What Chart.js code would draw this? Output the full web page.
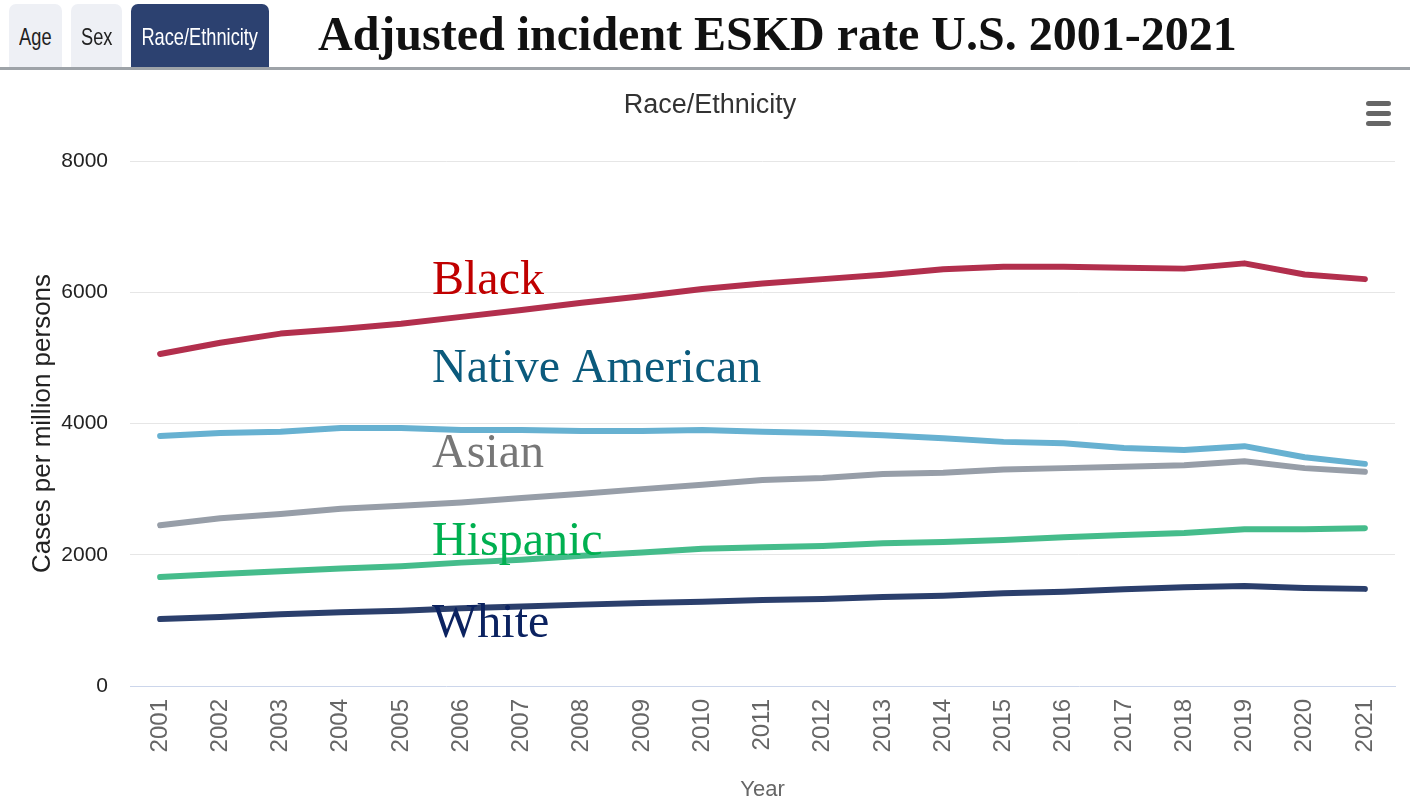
<!DOCTYPE html>
<html>
<head>
<meta charset="utf-8">
<title>Adjusted incident ESKD rate U.S. 2001-2021</title>
<script src="https://cdn.jsdelivr.net/npm/chart.js@4.4.1/dist/chart.umd.min.js"></script>
<style>
  html, body { margin: 0; padding: 0; background: #fff; }
  body { width: 1412px; height: 803px; position: relative; overflow: hidden; }
  #chart { position: absolute; left: 0; top: 0; }
  .tab {
    position: absolute; top: 4px; height: 63px;
    display: flex; align-items: center; justify-content: center;
    border-radius: 7px 7px 0 0;
    font-family: "Liberation Sans", Arial, sans-serif;
    font-size: 24px; color: #222; background: #eef0f5; white-space: nowrap;
  }
  /* the reference uses a condensed face, squeeze the text sideways */
  .tab span { display: inline-block; flex: none; transform: scaleX(0.76); margin-top: 2px; }
  .tab.active { background: #2c4170; color: #fff; }
  #rule { position: absolute; left: 0; top: 67px; width: 1410px; height: 3px; background: #9ea3a8; }
  #mainTitle {
    position: absolute; left: 318px; top: 10px; line-height: 1;
    font-family: "Liberation Serif", "Times New Roman", serif; font-weight: bold;
    font-size: 48px; color: #111; white-space: nowrap;
  }
  .bar { position: absolute; left: 1366px; width: 25px; height: 5px; border-radius: 3px; background: #666; }
</style>
</head>
<body>
<canvas id="chart" width="1412" height="803"></canvas>

<div class="tab" style="left:9px;width:53px;"><span>Age</span></div>
<div class="tab" style="left:71px;width:51px;"><span>Sex</span></div>
<div class="tab active" style="left:131px;width:138px;"><span>Race/Ethnicity</span></div>
<div id="rule"></div>
<div id="mainTitle">Adjusted incident ESKD rate U.S. 2001-2021</div>
<div class="bar" style="top:101px;"></div>
<div class="bar" style="top:111px;"></div>
<div class="bar" style="top:121px;"></div>

<script>
// data (cases per million persons)
const years = ["2001", "2002", "2003", "2004", "2005", "2006", "2007", "2008", "2009", "2010", "2011",
  "2012", "2013", "2014", "2015", "2016", "2017", "2018", "2019", "2020", "2021"];

const black = [5060, 5230, 5370, 5440, 5520, 5625, 5730, 5840, 5940, 6050, 6135,
  6200, 6265, 6350, 6390, 6390, 6375, 6360, 6440, 6270, 6200];
const nativeAmerican = [3810, 3855, 3875, 3930, 3930, 3900, 3900, 3885, 3885, 3900, 3875,
  3855, 3820, 3775, 3720, 3700, 3625, 3595, 3655, 3485, 3385];
const asian = [2450, 2555, 2620, 2700, 2745, 2795, 2865, 2930, 3000, 3065, 3140,
  3170, 3230, 3250, 3300, 3320, 3340, 3365, 3425, 3320, 3265];
const hispanic = [1660, 1705, 1750, 1790, 1825, 1880, 1925, 1985, 2035, 2090, 2115,
  2135, 2175, 2195, 2225, 2265, 2300, 2330, 2390, 2390, 2405];
const white = [1020, 1050, 1095, 1125, 1145, 1185, 1210, 1240, 1265, 1285, 1310,
  1325, 1355, 1375, 1415, 1435, 1475, 1505, 1525, 1495, 1480];

const yTicks = [0, 2000, 4000, 6000, 8000];

const seriesNames = ["Black", "Native American", "Asian", "Hispanic", "White"];
const lineColors = ["#b22f4d", "#67b1d1", "#979ea8", "#45bc8b", "#2b3f6c"];
const labelColors = ["#c00000", "#0b5a7c", "#777777", "#00b050", "#0b2260"];
// text baseline of each series label, in page pixels
const labelBaselines = [294, 382, 467, 555, 637];

const sans = "'Liberation Sans', Arial, sans-serif";

// series names written inside the plot, over the lines
const seriesLabelPlugin = {
  id: "seriesLabels",
  afterDatasetsDraw(chart) {
    const ctx = chart.ctx;
    ctx.save();
    ctx.font = "48px 'Liberation Serif', 'Times New Roman', serif";
    ctx.textAlign = "left";
    ctx.textBaseline = "alphabetic";
    seriesNames.forEach((name, i) => {
      ctx.fillStyle = labelColors[i];
      ctx.fillText(name, 432, labelBaselines[i]);
    });
    ctx.restore();
  },
};

const seriesData = [black, nativeAmerican, asian, hispanic, white];

const datasets = seriesNames.map((name, i) => ({
  label: name,
  data: seriesData[i],
  borderColor: lineColors[i],
  backgroundColor: lineColors[i],
  borderWidth: 6,
  borderCapStyle: "round",
  borderJoinStyle: "round",
  pointRadius: 0,
  pointHoverRadius: 0,
  tension: 0,
  fill: false,
  // grey line sits above the light blue one in the reference
  order: name === "Asian" ? 0 : i + 1,
}));

const chart = new Chart(document.getElementById("chart").getContext("2d"), {
  type: "line",
  data: {
    labels: years,
    datasets: datasets,
  },
  options: {
    responsive: false,
    animation: false,
    devicePixelRatio: 1,
    layout: {
      padding: { top: 80, left: 25, right: 17, bottom: 0 },
    },
    plugins: {
      legend: { display: false },
      tooltip: { enabled: false },
      title: {
        display: true,
        text: "Race/Ethnicity",
        color: "#333",
        font: { family: sans, size: 27, weight: "normal", lineHeight: 1.2 },
        padding: { top: 9, bottom: 39.6 },
      },
    },
    scales: {
      x: {
        offset: true,
        grid: { display: false, drawTicks: false },
        border: { display: true, color: "#ccd6eb", width: 1 },
        ticks: {
          color: "#666",
          font: { family: sans, size: 24 },
          minRotation: 90,
          maxRotation: 90,
          padding: 13,
          autoSkip: false,
        },
        title: {
          display: true,
          text: "Year",
          color: "#666",
          font: { family: sans, size: 22 },
          padding: { top: 0, bottom: 0 },
        },
        afterFit(scale) {
          scale.height = 117;
        },
      },
      y: {
        min: 0,
        max: 8000,
        afterBuildTicks(scale) {
          scale.ticks = yTicks.map((v) => ({ value: v }));
        },
        grid: {
          drawTicks: false,
          color: (c) => (c.tick && c.tick.value === 0 ? "rgba(0,0,0,0)" : "#e6e6e6"),
          lineWidth: 1,
        },
        border: { display: false },
        ticks: {
          color: "#222",
          font: { family: sans, size: 21 },
          padding: 22,
          callback: (v) => String(v),
        },
        title: {
          display: true,
          text: "Cases per million persons",
          color: "#222",
          font: { family: sans, size: 26 },
          padding: { top: 2, bottom: 0 },
        },
        afterFit(scale) {
          scale.width = 105;
        },
      },
    },
  },
  plugins: [seriesLabelPlugin],
});
</script>
</body>
</html>
